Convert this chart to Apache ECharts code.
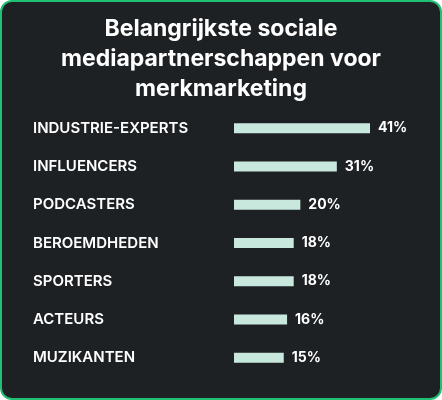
<!DOCTYPE html>
<html>
<head>
<meta charset="utf-8">
<script src="https://cdn.jsdelivr.net/npm/echarts@6/dist/echarts.min.js"></script>
<style>
html,body{margin:0;padding:0;background:#fff;}
#wrap{position:absolute;left:0;top:0;width:438px;height:396px;border:2px solid #1fbf74;border-radius:12px;background:#1e2124;overflow:hidden;}
#chart{width:438px;height:396px;}
</style>
</head>
<body>
<div id="wrap"><div id="chart"></div></div>
<script>
var categories = ['INDUSTRIE-EXPERTS','INFLUENCERS','PODCASTERS','BEROEMDHEDEN','SPORTERS','ACTEURS','MUZIKANTEN'];
var values = [41, 31, 20, 18, 18, 16, 15];

var chart = echarts.init(document.getElementById('chart'));
var option = {
    title: {
        text: 'Belangrijkste sociale\nmediapartnerschappen voor\nmerkmarketing',
        left: 'center',
        top: 7,
        textStyle: {
            color: '#ffffff',
            fontFamily: 'Inter',
            fontWeight: 'bold',
            fontSize: 23,
            lineHeight: 30
        }
    },
    grid: { left: 232, right: 70, top: 107, bottom: 21 },
    xAxis: { type: 'value', min: 0, max: 41, show: false },
    yAxis: {
        type: 'category',
        inverse: true,
        data: categories,
        axisLine: { show: false },
        axisTick: { show: false },
        axisLabel: {
            align: 'left',
            margin: 201,
            color: '#ffffff',
            fontFamily: 'Inter',
            fontWeight: 600,
            fontSize: 15
        }
    },
    series: [{
        type: 'bar',
        data: values,
        barWidth: 10,
        itemStyle: { color: '#c8e8dd' },
        label: {
            show: true,
            position: 'right',
            distance: 8,
            formatter: '{c}%',
            color: '#ffffff',
            fontFamily: 'Inter',
            fontWeight: 'bold',
            fontSize: 14
        }
    }]
};
chart.setOption(option);
</script>
</body>
</html>
